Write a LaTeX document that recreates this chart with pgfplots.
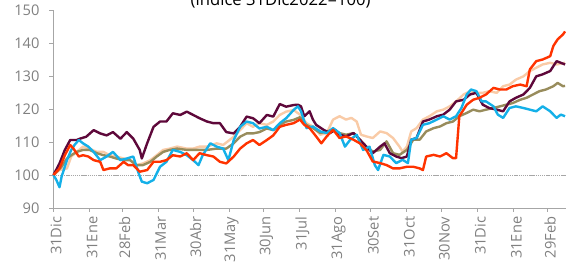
\documentclass[border=0pt]{standalone}
\usepackage{pgfplots}
\pgfplotsset{compat=1.18}
\usepackage{fontspec}
\setmainfont{Open Sans}
\definecolor{cMaroon}{RGB}{94,8,58}
\definecolor{cOrange}{RGB}{255,51,0}
\definecolor{cBlue}{RGB}{20,176,232}
\definecolor{cPeach}{RGB}{249,203,167}
\definecolor{cOlive}{RGB}{152,140,92}
\definecolor{cAxis}{RGB}{166,166,166}
\definecolor{cText}{RGB}{128,128,128}
\begin{document}
\begin{tikzpicture}
\begin{axis}[
  at={(40.1pt,41.25pt)}, anchor=south west,
  scale only axis, width=384.4pt, height=148.5pt,
  xmin=0, xmax=441, ymin=90, ymax=150,
  axis x line*=bottom, axis y line*=left,
  axis line style={cAxis, line width=0.6pt, -},
  tick style={cAxis, line width=0.6pt},
  tick align=outside, major tick length=3pt,
  ytick={90,100,...,150},
  xtick={0,31,59,90,120,151,181,212,243,273,304,334,365,396,425},
  xticklabels={31Dic,31Ene,28Feb,31Mar,30Abr,31May,30Jun,31Jul,31Ago,30Set,31Oct,30Nov,31Dic,31Ene,29Feb},
  xticklabel style={rotate=90, anchor=east, yshift=-2pt, font=\fontsize{11}{13}\selectfont, text=cText},
  yticklabel style={xshift=-4pt, font=\fontsize{11}{13}\selectfont, text=cText},
  /pgf/number format/assume math mode=true,
  clip=false,
  every axis plot/.append style={line width=1.8pt, line join=round, no marks},
]
\addplot[cAxis, line width=0.7pt, dash pattern=on 1pt off 0.6pt] coordinates {(0,100) (441,100)};
% Peach
\addplot[cPeach] coordinates {
(0,100)(5.2,101.5)(11.6,102)(15.3,105.6)(20,107)(25.4,108.6)(31,108)(37.4,107)(43,107)(48.4,106)(54,105.6)(60.4,105)(65.9,104.5)(71.4,103)(77,103.5)(83.4,104.5)(88.9,106)(94.4,107.6)(100,108)(106.4,108.6)(114.7,108)(120.2,108)(125.7,108.6)(132.1,108.6)(140.4,109.6)(146,109.1)(155.1,111.6)(160.6,113.6)(166.2,115.7)(171.7,114.6)(177.2,115.7)(183.6,115.2)(189.1,116.2)(194.7,118.2)(200.2,119.2)(206.6,119.7)
(212.1,118.3)(217.7,115.7)(223.2,114.7)(229.6,112.2)(235.1,112.7)(240.6,116.8)(246.2,117.8)(251.7,116.8)(256.3,117.3)(260.9,116.2)(264.6,112.2)(269.2,111.7)(274.7,111.2)(281.1,113.2)(286.6,112.7)(292.2,111.2)(297.7,108.6)(300.4,107.1)(304.1,108.6)(307.8,113.2)(312.4,114.2)(317.9,116.8)(323.4,117.8)(329.9,119.3)(335.4,119.8)(340.9,120.8)(346.4,122.3)(352.9,124.4)(358.4,125.4)(363.9,124.9)(369.4,124.9)(374.9,125.4)(381.4,124.9)(386.9,126.9)(392.4,127.4)(397.9,128.9)(404.4,129.9)(409.9,131.5)(415.4,132.5)(420.9,133.5)(427.4,134)(432.9,133.5)(440.2,134)
};
% Olive
\addplot[cOlive] coordinates {
(0,100)(7,102.5)(11.6,105)(15.3,106)(20,107)(25.4,107.6)(31,107.6)(37.4,106.6)(43,106)(48.4,105.6)(54,105)(60.4,104.5)(65.9,104.5)(71.4,103)(77,103)(83.4,104)(88.9,105.6)(94.4,107)(100,107.6)(106.4,108)(114.7,107.6)(120.2,107.6)(125.7,107.6)(132.1,107.6)(140.4,108)(148.7,108)(155.1,109.6)(160.6,111.6)(166.2,112.6)(171.7,112.6)(177.2,113)(183.6,114.1)(189.1,113.6)(194.7,115.2)(200.2,116.2)(206.6,116.7)
(212.1,117.5)(217.7,115.2)(223.2,114.2)(229.6,112.7)(235.1,113.2)(240.6,113.7)(246.2,112.7)(251.7,112.2)(258.1,112.7)(263.6,110.7)(269.2,108.6)(274.7,107.1)(281.1,107.6)(286.6,110.2)(292.2,106.6)(297.7,106.1)(304.1,107.6)(309.6,110.7)(315.1,110.7)(320.7,113.2)(327.1,114.2)(332.6,114.7)(338.1,115.7)(343.7,116.2)(349.2,117.8)(355.6,118.8)(361.1,119.8)(366.6,119.3)(372.2,119.8)(378.6,120.3)(384.1,120.8)(389.6,121.3)(395.2,121.8)(401.6,122.8)(407.1,123.4)(412.6,124.4)(418.2,125.4)(423.7,125.9)(430.1,126.9)(433.8,127.9)(438.4,126.9)(440.2,127)
};
% Maroon
\addplot[cMaroon] coordinates {
(0,100)(5.2,103.5)(9.8,107.6)(14.4,110.6)(20,110.6)(22.7,111)(28.2,111.6)(34.6,113.6)(40.2,112.6)(45.7,112)(51.2,113)(57.6,111)(63.1,113)(68.7,111)(74.2,107.6)(76,105)(80.6,109.6)(86.1,114.6)(91.7,116.2)(97.2,116.2)(102.7,118.7)(109.1,118.2)(114.7,119.2)(120.2,118.2)(125.7,117.2)(132.1,116.2)(137.6,115.7)(143.2,115.7)(148.7,113)(155.1,112.6)(160.6,114.6)(166.2,117.7)(171.7,117.2)(177.2,115.7)(183.6,118.2)(189.1,117.7)(194.7,121.5)(200.2,120.7)(206.6,121.2)
(210.3,121.3)(213,120.8)(215.8,117.8)(220.4,119.3)(223.2,116.8)(226,115.2)(232.4,113.7)(237.9,112.7)(242.5,113.7)(246.2,112.2)(251.7,111.7)(258.1,112.7)(263.6,110.7)(269.2,108.6)(274.7,106.6)(281.1,108.6)(284.8,109.6)(289.4,106.6)(294.9,105.6)(299.5,105.1)(304.1,105.6)(307.8,110.7)(312.4,111.2)(317.9,116.2)(323.4,116.8)(329.9,117.8)(335.4,118.3)(340.9,119.8)(346.4,122.3)(352.9,122.8)(358.4,124.4)(363.9,124.9)(369.4,121.3)(374.9,120.3)(381.4,119.8)(386.9,119.3)(392.4,122.3)(397.9,123.4)(404.4,124.4)(409.9,126.4)(415.4,129.9)(420.9,130.5)(427.4,131.5)(432.9,134.5)(436.5,134)(440.2,133.5)
};
% Blue
\addplot[cBlue] coordinates {
(0,100)(2.5,98.5)(5.2,96.3)(7,99.5)(11.6,104.5)(15.3,107.6)(18.1,109.1)(21.8,110.6)(25.4,109.6)(30,108.6)(34.6,107)(40.2,104.5)(45.7,105.6)(51.2,107)(57.6,104.5)(63.1,105)(68.7,105.6)(73.3,100.5)(76,98)(80.6,97.5)(86.1,98.5)(91.7,102.5)(97.2,104)(102.7,107.6)(109.1,107)(114.7,106)(120.2,104.5)(124.8,103)(128.4,106)(134.9,109.6)(140.4,108.6)(146,108)(150.5,104.5)(155.1,110.6)(160.6,114.6)(166.2,116.2)(171.7,115.7)(177.2,114.1)(183.6,114.6)(189.1,113.6)(194.7,115.7)(200.2,117.2)(206.6,119.7)
(210.3,120.8)(213,119.3)(217.7,114.2)(223.2,114.7)(229.6,113.2)(235.1,112.7)(240.6,114.2)(246.2,112.7)(250.8,108.6)(255.4,110.7)(260.9,112.2)(266.4,107.6)(271.9,108.6)(276.5,103)(279.3,101.5)(283.9,106.1)(289.4,105.6)(294.9,103.6)(300.4,104.6)(305,103.6)(307.8,110.7)(312.4,111.2)(317.9,115.2)(323.4,115.7)(329.9,116.8)(335.4,117.8)(340.9,116.8)(346.4,117.8)(351,120.3)(355.6,124.4)(359.3,125.9)(363.9,125.4)(368.5,122.3)(372.2,122.3)(378.6,120.8)(382.3,118.3)(386.9,117.3)(392.4,120.3)(397.9,120.8)(404.4,120.3)(409.9,119.8)(415.4,119.3)(420.9,120.8)(427.4,119.3)(432.9,117.3)(436.5,118.3)(440.2,117.8)
};
% Orange
\addplot[cOrange] coordinates {
(0,100)(5.2,102)(9.8,106)(14.4,109.1)(17.2,108)(21.8,105.6)(25.4,106)(30,105.6)(34.6,104.5)(40.2,104)(43,101.5)(48.4,102)(54,102)(60.4,104)(64.1,103)(68.7,103)(74.2,101)(80.6,101.5)(86.1,104)(91.7,104)(97.2,104.5)(102.7,106)(109.1,105.6)(114.7,106.6)(120.2,104.5)(125.7,106.6)(132.1,106)(137.6,105.6)(143.2,104)(148.7,103.5)(155.1,105.6)(160.6,108)(166.2,109.6)(171.7,110.6)(177.2,109.1)(183.6,110.6)(189.1,112)(194.7,114.6)(200.2,115.2)(206.6,115.7)
(212.1,116.8)(215.8,115.2)(220.4,114.2)(226,111.7)(230.5,109.6)(235.1,111.7)(240.6,113.7)(246.2,111.2)(251.7,111.7)(258.1,110.7)(263.6,109.6)(269.2,107.6)(274.7,104.1)(281.1,103.6)(286.6,103)(292.2,102)(297.7,102)(304.1,102.5)(309.6,102.5)(315.1,102)(317.9,101.5)(320.7,105.6)(327.1,106.1)(332.6,105.6)(338.1,106.6)(343.7,105.1)(346.4,105.1)(349.2,117.8)(355.6,121.3)(361.1,122.8)(366.6,123.4)(372.2,124.4)(378.6,126.4)(384.1,125.9)(389.6,125.9)(395.2,126.9)(401.6,127.4)(407.1,126.9)(409.9,132)(415.4,134.5)(420.9,135)(427.4,136)(430.1,139.1)(433.8,141.1)(438.4,142.6)(440.2,143.5)
};
\end{axis}
\node[anchor=base, font=\fontsize{12.5}{14}\selectfont] at (210.5pt,193.3pt) {(índice 31Dic2022=100)};
\pgfresetboundingbox
\useasboundingbox (0,0) rectangle (424.5pt,197.25pt);
\end{tikzpicture}
\end{document}
